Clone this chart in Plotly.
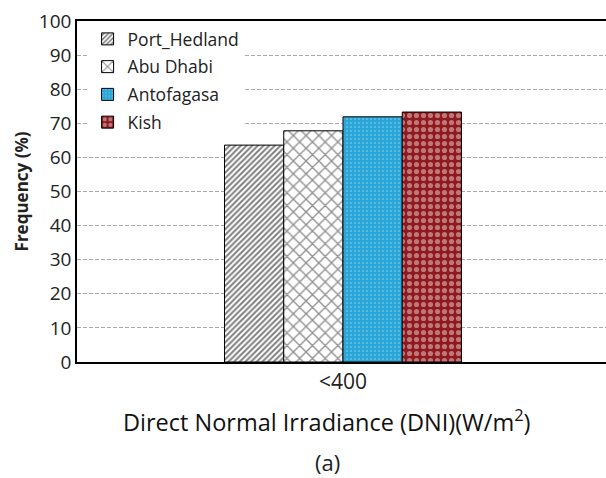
import plotly.graph_objects as go

categories = ["<400"]
series_names = ["Port_Hedland", "Abu Dhabi", "Antofagasa", "Kish"]
values = {
    "Port_Hedland": [63.6],
    "Abu Dhabi": [67.8],
    "Antofagasa": [71.9],
    "Kish": [73.3],
}
y_ticks = list(range(0, 101, 10))
x_title = "Direct Normal Irradiance (DNI)(W/m<sup>2</sup>)"
panel_label = "(a)"

styles = {
    "Port_Hedland": dict(color="white", pattern=dict(shape="/", fgcolor="#000", bgcolor="white", size=4, solidity=0.5)),
    "Abu Dhabi": dict(color="white", pattern=dict(shape="x", fgcolor="#222", bgcolor="white", size=9, solidity=0.28)),
    "Antofagasa": dict(color="#2AA6D8", pattern=dict(shape=".", fgcolor="#9FD8EE", bgcolor="#2AA6D8", size=4, solidity=0.2)),
    "Kish": dict(color="#8E1A1F", pattern=dict(shape=".", fgcolor="#F2D4D4", bgcolor="#8E1A1F", size=7, solidity=0.42)),
}

fig = go.Figure()
for name in series_names:
    st = styles[name]
    fig.add_trace(go.Bar(
        x=categories, y=values[name], name=name, legendgroup=name,
        marker=dict(color=st["color"], pattern=st["pattern"],
                    line=dict(color="black", width=1)),
    ))

font_family = "Open Sans, Noto Sans, sans-serif"
fig.update_layout(
    width=606, height=478,
    margin=dict(l=77, r=0, t=21, b=116),
    paper_bgcolor="white", plot_bgcolor="white",
    barmode="group", bargap=0.5545, bargroupgap=0,
    font=dict(family=font_family, color="#222"),
    showlegend=True,
    legend=dict(x=0.02, y=1.0, xanchor="left", yanchor="top",
                bgcolor="white", borderwidth=0,
                font=dict(size=17.5, color="#222"),
                itemwidth=30, tracegroupgap=2),
    xaxis=dict(range=[-0.5, 0.4944], showline=True, linecolor="black", linewidth=1.5,
               mirror=True, showgrid=False, ticks="",
               tickfont=dict(size=21, color="#222")),
    yaxis=dict(range=[0, 100], tickvals=y_ticks, showline=True, linecolor="black",
               linewidth=1.5, mirror=False, showgrid=True, gridcolor="#aaa",
               griddash="4px,2px", gridwidth=1, zeroline=False, ticks="",
               tickfont=dict(size=19, color="#222"),
               title=dict(text="<b>Frequency (%)</b>", font=dict(size=17, color="#222"),
                          standoff=6)),
)
fig.add_annotation(text=x_title, xref="paper", yref="paper", x=0.4726, y=-0.172,
                   showarrow=False, font=dict(size=23.5, color="#111"),
                   xanchor="center", yanchor="middle")
fig.add_annotation(text=panel_label, xref="paper", yref="paper", x=0.4726, y=-0.294,
                   showarrow=False, font=dict(size=22, color="#222"),
                   xanchor="center", yanchor="middle")

fig.write_html("out.html")
